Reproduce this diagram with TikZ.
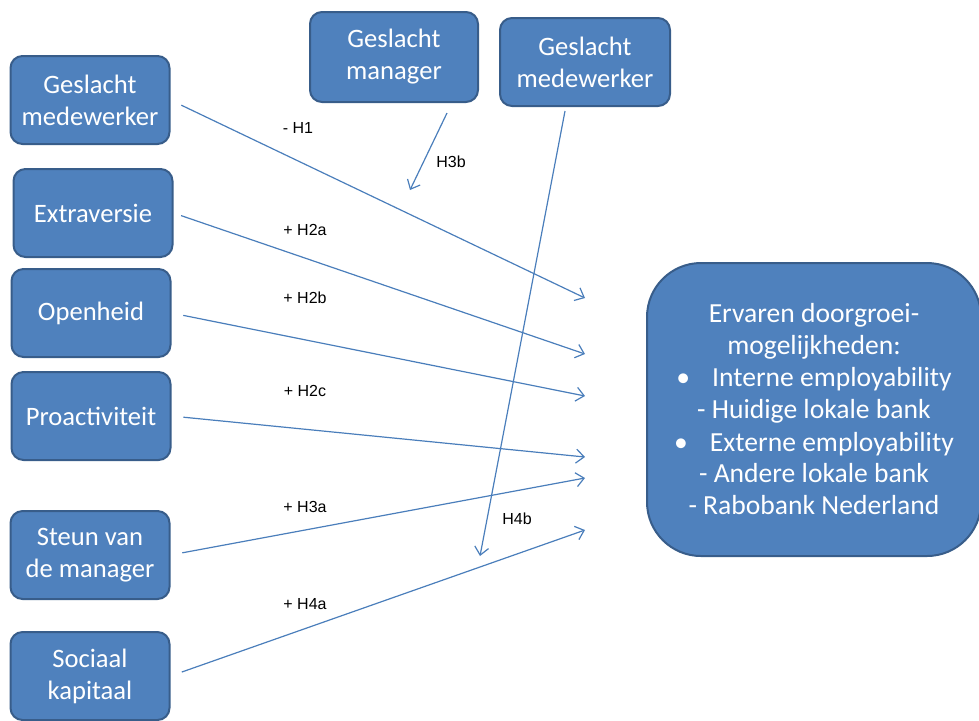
\documentclass[tikz,border=0pt]{standalone}
\usepackage{fontspec}
\setmainfont{Carlito}
\newfontfamily\labelfont{Liberation Sans}
\usetikzlibrary{arrows.meta}
\definecolor{boxblue}{HTML}{4F81BD}
\definecolor{boxedge}{HTML}{385D8A}
\definecolor{lineblue}{HTML}{4A7EBB}

\begin{document}
\begin{tikzpicture}[x=0.5pt,y=-0.5pt,>={Straight Barb[length=4pt,width=7pt]},
    factor/.style={rounded corners=6pt,draw=boxedge,line width=1pt,fill=boxblue,text=white,
      minimum width=79.5pt,minimum height=44pt,align=center,inner sep=1pt,
      font=\fontsize{13.3}{16}\selectfont},
    hyp/.style={->,lineblue,line width=0.6pt},
    hlabel/.style={font=\labelfont\fontsize{8}{9}\selectfont,inner sep=0pt}]
    \useasboundingbox (0,0) rectangle (979,720);
    % predictors
    \node[factor] (gmw) at (90,100) {Geslacht\\medewerker};
    \node[factor] (extra) at (93,213) {Extraversie};
    \node[factor] (open) at (91,313) {Openheid};
    \node[factor] (proact) at (91,416) {Proactiviteit};
    \node[factor] (steun) at (90,555) {Steun van\\de manager};
    \node[factor] (sociaal) at (90,676) {Sociaal\\kapitaal};
    % moderators
    \node[factor,minimum width=84pt,minimum height=45pt] (gman) at (394,57) {Geslacht\\manager};
    \node[factor,minimum width=85pt] (gmwtop) at (585,62) {Geslacht\\medewerker};
    % outcome
    \node[factor,rounded corners=27pt,minimum width=167pt,minimum height=146.5pt,
      font=\fontsize{13.8}{16}\selectfont] (doorgroei) at (814,409.5) {
      Ervaren doorgroei-\\
      mogelijkheden:\\
      \textbullet\hspace{11pt}Interne employability\\
      - Huidige lokale bank\\
      \textbullet\hspace{11pt}Externe employability\\
      - Andere lokale bank\\
      - Rabobank Nederland};
    % loose arrow ends
    \coordinate (e1) at (585,298);
    \coordinate (e2) at (585,354);
    \coordinate (e3) at (585,396);
    \coordinate (e4) at (585,457);
    \coordinate (e5) at (585,478);
    \coordinate (e6) at (585,530);
    \coordinate (e7) at (410,190);
    \coordinate (e8) at (480,556);
    \draw[hyp,shorten <=6pt] (gmw.east) -- (e1);
    \draw[hyp,shorten <=4pt] (extra.east) -- (e2);
    \draw[hyp,shorten <=6pt] (open.east) -- (e3);
    \draw[hyp,shorten <=6pt] (proact.east) -- (e4);
    \draw[hyp,shorten <=6pt] (steun.east) -- (e5);
    \draw[hyp,shorten <=6pt] (sociaal.east) -- (e6);
    \draw[hyp] ([xshift=26.5pt,yshift=-5pt]gman.south) -- (e7);
    \draw[hyp] ([xshift=-10pt,yshift=-2pt]gmwtop.south) -- (e8);
    % hypotheses
    \node[hlabel] (h1) at (298,128) {- H1};
    \node[hlabel] (h2a) at (305,230) {+ H2a};
    \node[hlabel] (h2b) at (305,298) {+ H2b};
    \node[hlabel] (h2c) at (305,391) {+ H2c};
    \node[hlabel] (h3a) at (305,507) {+ H3a};
    \node[hlabel] (h4a) at (305,604) {+ H4a};
    \node[hlabel] (h3b) at (451,162) {H3b};
    \node[hlabel] (h4b) at (517,519) {H4b};
\end{tikzpicture}
\end{document}
